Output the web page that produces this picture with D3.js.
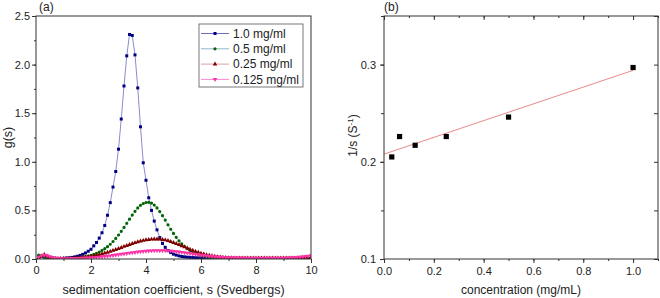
<!DOCTYPE html>
<html>
<head>
<meta charset="utf-8">
<script src="https://cdn.jsdelivr.net/npm/d3@7"></script>
<style>
  body { margin: 0; background: #fff; }
  text { font-family: "Liberation Sans", Arial, sans-serif; fill: #222; }
</style>
</head>
<body>
<div id="chart"></div>
<script>
/* Sedimentation velocity: g(s) distributions (a) and 1/s vs concentration (b) */

// panel (a): g(s) sampled every 0.1 S from 0.1 to 10.0
const sValues = d3.range(1, 101).map(i => i / 10);

const g10 = [0.030,0.025,0.020,0.016,0.012,0.009,0.007,0.006,0.006,0.007,
             0.010,0.012,0.016,0.021,0.028,0.037,0.048,0.062,0.080,0.100,
             0.135,0.170,0.215,0.270,0.345,0.450,0.580,0.740,0.900,1.130,
             1.440,1.780,2.090,2.310,2.300,2.100,1.760,1.360,0.990,0.810,
             0.630,0.500,0.390,0.300,0.220,0.160,0.120,0.088,0.066,0.050,
             0.040,0.032,0.026,0.022,0.019,0.017,0.015,0.013,0.012,0.011,
             0.010,0.009,0.009,0.008,0.008,0.007,0.007,0.006,0.006,0.006,
             0.005,0.005,0.005,0.005,0.004,0.004,0.004,0.004,0.004,0.004,
             0.003,0.003,0.003,0.003,0.003,0.003,0.003,0.003,0.003,0.003,
             0.003,0.003,0.003,0.003,0.003,0.003,0.003,0.003,0.003,0.003];

const g05 = [0.040,0.035,0.020,0.010,0.006,0.004,0.003,0.003,0.003,0.004,
             0.005,0.006,0.008,0.010,0.013,0.016,0.020,0.025,0.031,0.038,
             0.047,0.058,0.072,0.088,0.106,0.127,0.152,0.180,0.212,0.247,
             0.285,0.325,0.367,0.410,0.452,0.490,0.525,0.552,0.571,0.581,
             0.583,0.575,0.555,0.525,0.488,0.446,0.400,0.352,0.306,0.263,
             0.223,0.188,0.157,0.130,0.107,0.088,0.072,0.059,0.048,0.039,
             0.032,0.026,0.021,0.017,0.014,0.012,0.010,0.009,0.008,0.007,
             0.006,0.006,0.006,0.005,0.005,0.005,0.005,0.005,0.005,0.005,
             0.004,0.004,0.004,0.004,0.004,0.004,0.004,0.004,0.004,0.004,
             0.004,0.004,0.004,0.004,0.005,0.005,0.005,0.006,0.006,0.007];

const g025 = [0.010,0.030,0.045,0.030,0.015,0.008,0.005,0.004,0.004,0.004,
              0.005,0.006,0.007,0.009,0.011,0.013,0.016,0.019,0.023,0.027,
              0.032,0.038,0.045,0.052,0.060,0.068,0.077,0.087,0.097,0.107,
              0.117,0.128,0.138,0.148,0.158,0.167,0.176,0.184,0.190,0.196,
              0.200,0.203,0.205,0.205,0.203,0.200,0.195,0.188,0.179,0.169,
              0.158,0.147,0.135,0.123,0.111,0.099,0.088,0.077,0.067,0.058,
              0.050,0.043,0.036,0.031,0.026,0.022,0.019,0.016,0.014,0.012,
              0.011,0.010,0.010,0.009,0.009,0.009,0.008,0.008,0.008,0.008,
              0.008,0.008,0.008,0.008,0.008,0.008,0.008,0.008,0.008,0.008,
              0.009,0.009,0.010,0.010,0.011,0.012,0.013,0.014,0.015,0.016];

const g0125 = [0.020,0.035,0.040,0.035,0.025,0.016,0.010,0.007,0.006,0.005,
               0.005,0.005,0.006,0.006,0.007,0.008,0.009,0.011,0.012,0.014,
               0.016,0.018,0.021,0.024,0.027,0.030,0.034,0.038,0.042,0.046,
               0.050,0.054,0.058,0.062,0.066,0.069,0.073,0.076,0.079,0.081,
               0.083,0.085,0.086,0.087,0.087,0.087,0.086,0.085,0.083,0.080,
               0.077,0.074,0.070,0.066,0.062,0.058,0.053,0.049,0.045,0.041,
               0.037,0.033,0.030,0.027,0.024,0.022,0.020,0.018,0.016,0.015,
               0.014,0.013,0.012,0.011,0.011,0.010,0.010,0.010,0.010,0.010,
               0.010,0.010,0.010,0.010,0.010,0.010,0.010,0.010,0.010,0.010,
               0.011,0.012,0.013,0.015,0.017,0.020,0.023,0.027,0.031,0.035];

const seriesNames = ["1.0 mg/ml", "0.5 mg/ml", "0.25 mg/ml", "0.125 mg/ml"];

// panel (b): 1/s against loading concentration
const concentrations = [0.03125, 0.0625, 0.125, 0.25, 0.5, 1.0];
const inverseS = [0.205, 0.226, 0.217, 0.226, 0.246, 0.297];

const width = 660, height = 298;

const svg = d3.select("#chart")
    .append("svg")
    .attr("width", width)
    .attr("height", height);

// ---------- panel (a) ----------
const ma = { left: 36, right: 311, top: 16, bottom: 259 };

const xa = d3.scaleLinear().domain([0, 10]).range([ma.left, ma.right]);
const ya = d3.scaleLinear().domain([0, 2.5]).range([ma.bottom, ma.top]);

const styles = [
    { data: g10,   marker: "#000080", line: "#6c6cc0", symbol: d3.symbolSquare,   size: 9,  rot: 0 },
    { data: g05,   marker: "#006400", line: "#8fb8c8", symbol: d3.symbolCircle,   size: 8,  rot: 0 },
    { data: g025,  marker: "#800000", line: "#d8a0a8", symbol: d3.symbolTriangle, size: 9,  rot: 0 },
    { data: g0125, marker: "#ff33a8", line: "#ff88d0", symbol: d3.symbolTriangle, size: 9,  rot: 180 }
];

// minor + major ticks, outward on left and bottom
svg.append("g")
    .attr("transform", `translate(0,${ma.bottom})`)
    .call(d3.axisBottom(xa).tickValues(d3.range(0, 11, 1)).tickSize(2).tickFormat(""))
    .call(g => g.select(".domain").remove());
svg.append("g")
    .attr("transform", `translate(0,${ma.bottom})`)
    .call(d3.axisBottom(xa).tickValues(d3.range(0, 11, 2)).tickSize(4).tickPadding(3).tickFormat(d3.format("d")))
    .call(g => g.select(".domain").remove())
    .selectAll("text").style("font-size", "11px");

svg.append("g")
    .attr("transform", `translate(${ma.left},0)`)
    .call(d3.axisLeft(ya).tickValues(d3.range(0, 2.51, 0.25)).tickSize(2).tickFormat(""))
    .call(g => g.select(".domain").remove());
svg.append("g")
    .attr("transform", `translate(${ma.left},0)`)
    .call(d3.axisLeft(ya).tickValues(d3.range(0, 2.51, 0.5)).tickSize(4).tickPadding(2).tickFormat(d3.format(".1f")))
    .call(g => g.select(".domain").remove())
    .selectAll("text").style("font-size", "11px");

svg.selectAll(".tick line").attr("stroke", "#333");

svg.append("clipPath").attr("id", "clipA")
    .append("rect")
    .attr("x", ma.left).attr("y", ma.top)
    .attr("width", ma.right - ma.left).attr("height", ma.bottom - ma.top);

const plotA = svg.append("g").attr("clip-path", "url(#clipA)");

const lineA = d3.line()
    .x((d, i) => xa(sValues[i]))
    .y(d => ya(d));

styles.forEach(st => {
    plotA.append("path")
        .datum(st.data)
        .attr("fill", "none")
        .attr("stroke", st.line)
        .attr("stroke-width", 0.8)
        .attr("d", lineA);
});

styles.forEach(st => {
    const sym = d3.symbol().type(st.symbol).size(st.size);
    plotA.append("g")
        .selectAll("path")
        .data(st.data)
        .join("path")
        .attr("d", sym)
        .attr("fill", st.marker)
        .attr("transform", (d, i) => `translate(${xa(sValues[i])},${ya(d)}) rotate(${st.rot})`);
});

svg.append("rect")
    .attr("x", ma.left).attr("y", ma.top)
    .attr("width", ma.right - ma.left).attr("height", ma.bottom - ma.top)
    .attr("fill", "none").attr("stroke", "#333").attr("stroke-width", 1);

// legend
const legend = svg.append("g").attr("transform", "translate(199,24)");
legend.append("rect")
    .attr("width", 104).attr("height", 63)
    .attr("fill", "#fff").attr("stroke", "#555").attr("stroke-width", 0.8);

const entry = legend.selectAll(".entry")
    .data(styles)
    .join("g")
    .attr("class", "entry")
    .attr("transform", (d, i) => `translate(0,${9.5 + i * 15.3})`);

entry.append("line")
    .attr("x1", 2).attr("x2", 30)
    .attr("stroke", d => d.line).attr("stroke-width", 1);

entry.append("path")
    .attr("d", d => d3.symbol().type(d.symbol).size(d.size)())
    .attr("fill", d => d.marker)
    .attr("transform", d => `translate(16,0) rotate(${d.rot})`);

entry.append("text")
    .attr("x", 34).attr("y", 4.3)
    .style("font-size", "12px")
    .text((d, i) => seriesNames[i]);

svg.append("text")
    .attr("x", 39).attr("y", 11)
    .style("font-size", "12px")
    .text("(a)");

svg.append("text")
    .attr("x", (ma.left + ma.right) / 2).attr("y", 294)
    .attr("text-anchor", "middle")
    .style("font-size", "12.5px")
    .text("sedimentation coefficient, s (Svedbergs)");

svg.append("text")
    .attr("transform", `translate(12,${(ma.top + ma.bottom) / 2}) rotate(-90)`)
    .attr("text-anchor", "middle")
    .style("font-size", "12.5px")
    .text("g(s)");

// ---------- panel (b) ----------
const mb = { left: 384, right: 658, top: 16, bottom: 259 };

const xb = d3.scaleLinear().domain([0, 1.1]).range([mb.left, mb.right]);
const yb = d3.scaleLinear().domain([0.1, 0.35]).range([mb.bottom, mb.top]);

const xMinor = d3.range(0, 1.101, 0.1);
const xMajor = d3.range(0, 1.01, 0.2);
const yMinor = d3.range(0.1, 0.351, 0.05);
const yMajor = [0.1, 0.2, 0.3];

// bottom and left: outward, labelled
svg.append("g")
    .attr("transform", `translate(0,${mb.bottom})`)
    .call(d3.axisBottom(xb).tickValues(xMinor).tickSize(2).tickFormat(""))
    .call(g => g.select(".domain").remove());
svg.append("g")
    .attr("transform", `translate(0,${mb.bottom})`)
    .call(d3.axisBottom(xb).tickValues(xMajor).tickSize(4).tickPadding(4).tickFormat(d3.format(".1f")))
    .call(g => g.select(".domain").remove())
    .selectAll("text").style("font-size", "11px");

svg.append("g")
    .attr("transform", `translate(${mb.left},0)`)
    .call(d3.axisLeft(yb).tickValues(yMinor).tickSize(3).tickFormat(""))
    .call(g => g.select(".domain").remove());
svg.append("g")
    .attr("transform", `translate(${mb.left},0)`)
    .call(d3.axisLeft(yb).tickValues(yMajor).tickSize(4).tickPadding(4).tickFormat(d3.format(".1f")))
    .call(g => g.select(".domain").remove())
    .selectAll("text").style("font-size", "11px");

// top and right: mirrored ticks pointing inward
svg.append("g")
    .attr("transform", `translate(0,${mb.top})`)
    .call(d3.axisBottom(xb).tickValues(xMinor).tickSize(2).tickFormat(""))
    .call(g => g.select(".domain").remove());
svg.append("g")
    .attr("transform", `translate(0,${mb.top})`)
    .call(d3.axisBottom(xb).tickValues(xMajor).tickSize(4).tickFormat(""))
    .call(g => g.select(".domain").remove());
svg.append("g")
    .attr("transform", `translate(${mb.right},0)`)
    .call(d3.axisLeft(yb).tickValues(yMinor).tickSize(4).tickFormat(""))
    .call(g => g.select(".domain").remove());

svg.selectAll(".tick line").attr("stroke", "#333");

// least squares fit of 1/s on c
const meanC = d3.mean(concentrations), meanI = d3.mean(inverseS);
const slope = d3.sum(concentrations, (c, i) => (c - meanC) * (inverseS[i] - meanI)) /
              d3.sum(concentrations, c => (c - meanC) ** 2);
const intercept = meanI - slope * meanC;
const fitRange = [0, d3.max(concentrations)];

svg.append("path")
    .datum(fitRange)
    .attr("fill", "none")
    .attr("stroke", "#e67a7a")
    .attr("stroke-width", 0.9)
    .attr("d", d3.line().x(c => xb(c)).y(c => yb(intercept + slope * c)));

svg.append("g")
    .selectAll("rect")
    .data(concentrations)
    .join("rect")
    .attr("x", d => xb(d) - 2.6)
    .attr("y", (d, i) => yb(inverseS[i]) - 2.6)
    .attr("width", 5.2).attr("height", 5.2)
    .attr("fill", "#000");

svg.append("rect")
    .attr("x", mb.left).attr("y", mb.top)
    .attr("width", mb.right - mb.left).attr("height", mb.bottom - mb.top)
    .attr("fill", "none").attr("stroke", "#333").attr("stroke-width", 1);

svg.append("text")
    .attr("x", 384).attr("y", 11)
    .style("font-size", "12px")
    .text("(b)");

svg.append("text")
    .attr("x", xb(0.55)).attr("y", 294)
    .attr("text-anchor", "middle")
    .style("font-size", "12px")
    .text("concentration (mg/mL)");

const yTitle = svg.append("text")
    .attr("transform", `translate(357,${(mb.top + mb.bottom) / 2 - 2}) rotate(-90)`)
    .attr("text-anchor", "middle")
    .style("font-size", "12px");
yTitle.append("tspan").text("1/s  (S");
yTitle.append("tspan").attr("dy", -4).style("font-size", "8px").text("-1");
yTitle.append("tspan").attr("dy", 4).text(")");
</script>
</body>
</html>
